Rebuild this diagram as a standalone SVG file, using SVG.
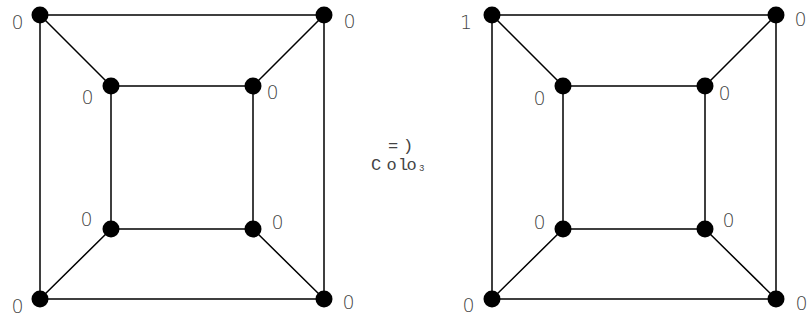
<svg xmlns="http://www.w3.org/2000/svg" width="811" height="322" viewBox="0 0 811 322">
<style>
.e{stroke:#000;stroke-width:1.5;fill:none}
.n{fill:#000}
.l{font-family:"DejaVu Sans","Liberation Sans",sans-serif;font-weight:200;font-size:19px;fill:#444}
.t{font-family:"Liberation Mono","DejaVu Sans Mono",monospace;font-size:17px;fill:#444}
</style>
<rect width="811" height="322" fill="#fff"/>
<g id="connectors">
<path class="e" d="M40 15H324V299H40Z M111 86H253V229H111Z M40 15L111 86 M324 15L253 86 M40 299L111 229 M324 299L253 229"/>
<path class="e" d="M492 15H776V299H492Z M563 86H705V229H563Z M492 15L563 86 M776 15L705 86 M492 299L563 229 M776 299L705 229"/>
</g>
<g id="L-oTL"><circle class="n" cx="40" cy="15" r="8.5"/><text class="l" x="11.5" y="29">0</text></g>
<g id="L-oTR"><circle class="n" cx="324" cy="15" r="8.5"/><text class="l" x="343.5" y="28">0</text></g>
<g id="L-iTL"><circle class="n" cx="111" cy="86" r="8.5"/><text class="l" x="81.5" y="104">0</text></g>
<g id="L-iTR"><circle class="n" cx="253" cy="86" r="8.5"/><text class="l" x="266.5" y="99">0</text></g>
<g id="L-iBL"><circle class="n" cx="111" cy="229" r="8.5"/><text class="l" x="80.5" y="226">0</text></g>
<g id="L-iBR"><circle class="n" cx="253" cy="229" r="8.5"/><text class="l" x="271.5" y="229">0</text></g>
<g id="L-oBL"><circle class="n" cx="40" cy="299" r="8.5"/><text class="l" x="11.5" y="313">0</text></g>
<g id="L-oBR"><circle class="n" cx="324" cy="299" r="8.5"/><text class="l" x="342.5" y="309">0</text></g>
<g id="R-oTL"><circle class="n" cx="492" cy="15" r="8.5"/><text class="l" x="460" y="29">1</text></g>
<g id="R-oTR"><circle class="n" cx="776" cy="15" r="8.5"/><text class="l" x="794.5" y="26">0</text></g>
<g id="R-iTL"><circle class="n" cx="563" cy="86" r="8.5"/><text class="l" x="533.5" y="105">0</text></g>
<g id="R-iTR"><circle class="n" cx="705" cy="86" r="8.5"/><text class="l" x="718.5" y="100">0</text></g>
<g id="R-iBL"><circle class="n" cx="563" cy="229" r="8.5"/><text class="l" x="533.5" y="229">0</text></g>
<g id="R-iBR"><circle class="n" cx="705" cy="229" r="8.5"/><text class="l" x="722.5" y="227">0</text></g>
<g id="R-oBL"><circle class="n" cx="492" cy="299" r="8.5"/><text class="l" x="462.5" y="312">0</text></g>
<g id="R-oBR"><circle class="n" cx="776" cy="299" r="8.5"/><text class="l" x="795.5" y="310">0</text></g>
<g id="label">
<text class="t" x="388 403" y="151">=)</text>
<text class="t" y="170"><tspan x="371 386.5 398 406.5">Colo</tspan><tspan x="419" y="171" font-size="9">3</tspan></text>
</g>
</svg>
